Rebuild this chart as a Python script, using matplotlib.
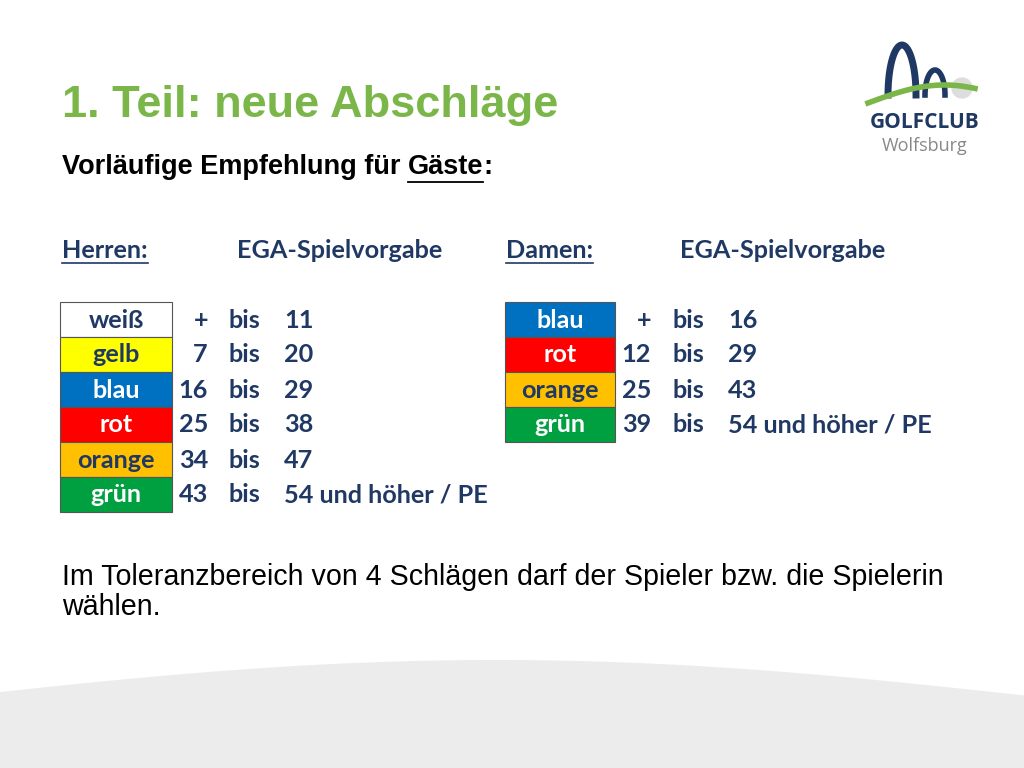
import matplotlib
matplotlib.use("Agg")
import matplotlib.pyplot as plt
import numpy as np
from matplotlib.patches import Rectangle, Polygon

title = "1. Teil: neue Abschläge"
sub_a, sub_b, sub_c = "Vorläufige Empfehlung für ", "Gäste", ":"
note = ["Im Toleranzbereich von 4 Schlägen darf der Spieler bzw. die Spielerin", "wählen."]

herren_tees = ["weiß", "gelb", "blau", "rot", "orange", "grün"]
herren_colors = ["#ffffff", "#ffff00", "#0070c0", "#ff0000", "#ffc000", "#00a040"]
herren_from = ["+", "7", "16", "25", "34", "43"]
herren_to = ["11", "20", "29", "38", "47", "54 und höher / PE"]

damen_tees = ["blau", "rot", "orange", "grün"]
damen_colors = ["#0070c0", "#ff0000", "#ffc000", "#00a040"]
damen_from = ["+", "12", "25", "39"]
damen_to = ["16", "29", "43", "54 und höher / PE"]

navy = "#1f3864"
green = "#7ab648"

fig = plt.figure(figsize=(10.24, 7.68), dpi=100)
ax = fig.add_axes([0, 0, 1, 1])
ax.set_xlim(0, 1024); ax.set_ylim(768, 0); ax.axis("off")
fig.canvas.draw()
r = fig.canvas.get_renderer()

def width(t):
    bb = t.get_window_extent(r)
    return bb.width

# bottom swoosh
xs = np.linspace(0, 1024, 200)
top = 700 - 40*np.sin(np.pi*xs/1024*0.9+0.2)
ax.add_patch(Polygon(np.column_stack([np.r_[xs, xs[::-1]], np.r_[top, np.full(200, 768)]]), color="#ececec", lw=0))

ax.text(62, 106, title, fontsize=32.5, fontweight="bold", color=green, family="Liberation Sans", va="center")
sf = dict(fontsize=19.5, fontweight="bold", family="Liberation Sans", va="center")
x = 62
ta = ax.text(x, 167, sub_a, **sf); x += width(ta)
tb = ax.text(x, 167, sub_b, **sf); wb = width(tb)
ax.plot([x, x + wb], [182, 182], color="black", lw=1.3); x += wb
ax.text(x, 167, sub_c, **sf)

tf = dict(fontsize=18.2, fontweight="bold", family="Lato", color=navy, va="center")
def underlined(x, y, s):
    t = ax.text(x, y, s, **tf)
    ax.plot([x, x + width(t)], [y + 13, y + 13], color=navy, lw=1.2)
underlined(62, 250, "Herren:")
ax.text(237, 250, "EGA-Spielvorgabe", **tf)
underlined(506, 250, "Damen:")
ax.text(680, 250, "EGA-Spielvorgabe", **tf)

def table(x0, w, tees, cols, fr, to, xnum, xbis, xto):
    for i, (t, c, f, e) in enumerate(zip(tees, cols, fr, to)):
        y = 302 + 35*i
        ax.add_patch(Rectangle((x0, y), w, 35, facecolor=c, edgecolor="#555555", lw=0.8))
        tc = "white" if c in ("#0070c0", "#ff0000", "#00a040") else navy
        ax.text(x0 + w/2, y + 18, t, ha="center", **{**tf, "color": tc})
        ax.text(xnum, y + 18, f, ha="right", **tf)
        ax.text(xbis, y + 18, "bis", ha="left", **tf)
        ax.text(xto, y + 18, e, ha="left", **tf)

table(60, 112, herren_tees, herren_colors, herren_from, herren_to, 208, 228, 284)
table(505, 110, damen_tees, damen_colors, damen_from, damen_to, 651, 672, 728)

for i, line in enumerate(note):
    ax.text(62, 577 + 30*i, line, fontsize=20.6, family="Liberation Sans", va="center")

# logo
t = np.linspace(0, np.pi, 50)
ax.plot(902 + 14*np.cos(t), 95 - 50*np.sin(t), color=navy, lw=5)
ax.plot(935 + 10*np.cos(t), 95 - 25*np.sin(t), color=navy, lw=4)
ax.add_patch(plt.Circle((962, 88), 10, color="#dddddd"))
ax.plot(np.linspace(868, 975, 50), 103 - 18*np.sin(np.linspace(0, np.pi, 50)*0.7), color=green, lw=4)
ax.text(925, 122, "GOLFCLUB", fontsize=15, fontweight="bold", family="Open Sans", color=navy, ha="center", va="center")
ax.text(925, 146, "Wolfsburg", fontsize=13, family="Open Sans", color="#888888", ha="center", va="center")

fig.savefig("out.png", dpi=100)
